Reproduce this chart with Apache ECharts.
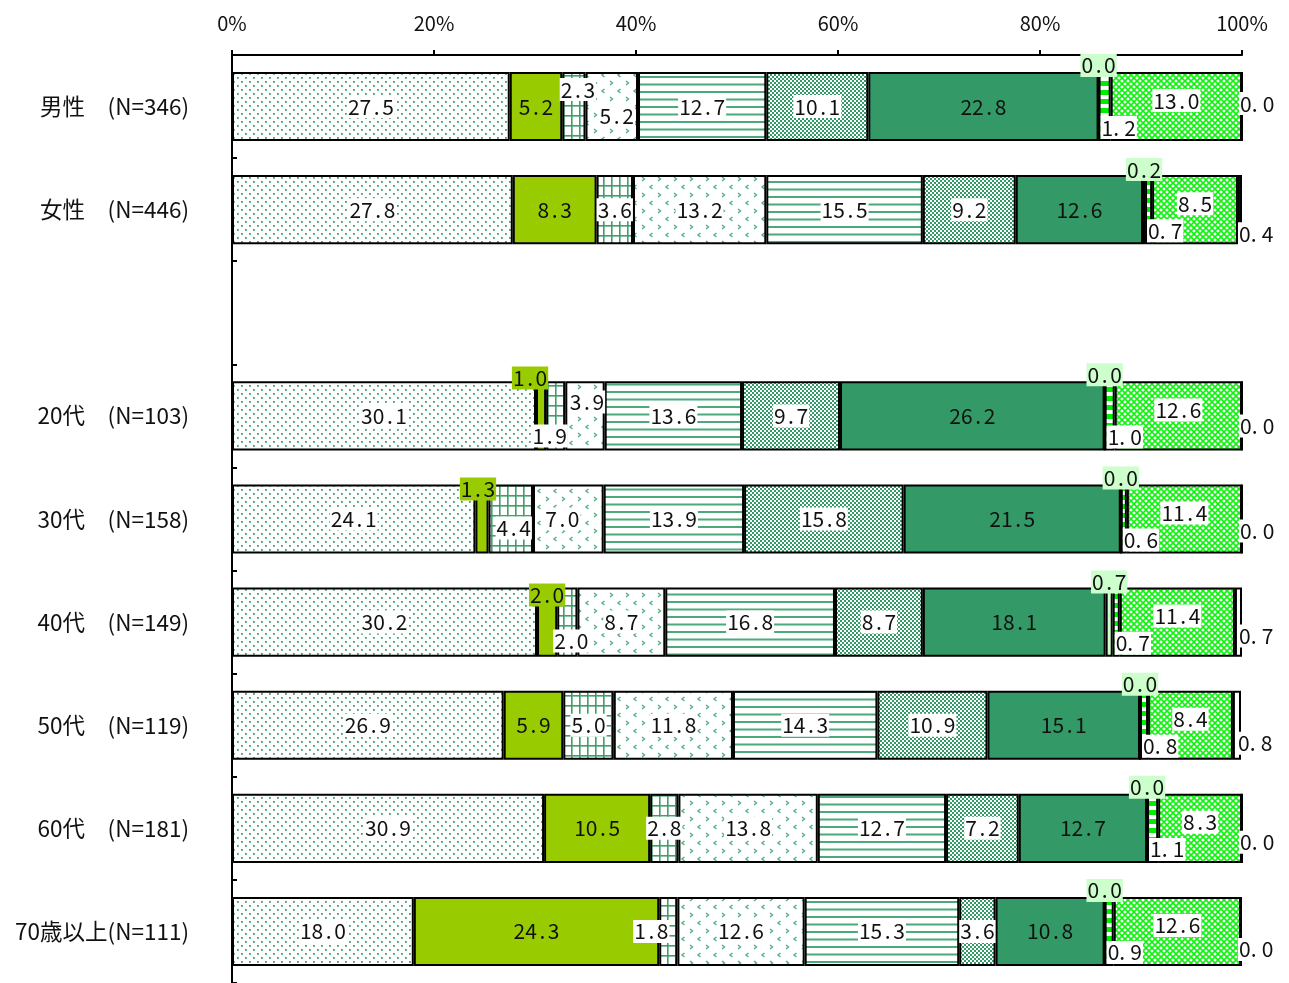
<!DOCTYPE html>
<html>
<head>
<meta charset="utf-8">
<script src="https://cdn.jsdelivr.net/npm/echarts@6/dist/echarts.min.js"></script>
<style>
  html, body { margin: 0; padding: 0; background: #fff; }
  #chart { width: 1289px; height: 983px; }
</style>
</head>
<body>
<div id="chart"></div>
<script>
// Row labels (the empty one is a spacer row between sex and age groups)
const categories = [
  '男性　(N=346)', '女性　(N=446)', '',
  '20代　(N=103)', '30代　(N=158)', '40代　(N=149)',
  '50代　(N=119)', '60代　(N=181)', '70歳以上(N=111)'
];
const tickLabels = ['0%', '20%', '40%', '60%', '80%', '100%'];

// Percentages per answer group, one value per row (null = spacer row)
const s1  = [27.5, 27.8, null, 30.1, 24.1, 30.2, 26.9, 30.9, 18.0];
const s2  = [ 5.2,  8.3, null,  1.0,  1.3,  2.0,  5.9, 10.5, 24.3];
const s3  = [ 2.3,  3.6, null,  1.9,  4.4,  2.0,  5.0,  2.8,  1.8];
const s4  = [ 5.2, 13.2, null,  3.9,  7.0,  8.7, 11.8, 13.8, 12.6];
const s5  = [12.7, 15.5, null, 13.6, 13.9, 16.8, 14.3, 12.7, 15.3];
const s6  = [10.1,  9.2, null,  9.7, 15.8,  8.7, 10.9,  7.2,  3.6];
const s7  = [22.8, 12.6, null, 26.2, 21.5, 18.1, 15.1, 12.7, 10.8];
const s8  = [ 0.0,  0.2, null,  0.0,  0.0,  0.7,  0.0,  0.0,  0.0];
const s9  = [ 1.2,  0.7, null,  1.0,  0.6,  0.7,  0.8,  1.1,  0.9];
const s10 = [13.0,  8.5, null, 12.6, 11.4, 11.4,  8.4,  8.3, 12.6];
const s11 = [ 0.0,  0.4, null,  0.0,  0.0,  0.7,  0.8,  0.0,  0.0];
const seriesValues = [s1, s2, s3, s4, s5, s6, s7, s8, s9, s10, s11];

// ---- fill patterns -------------------------------------------------------
function tile(w, h, draw) {
  const c = document.createElement('canvas');
  c.width = w; c.height = h;
  const g = c.getContext('2d');
  g.fillStyle = '#fff';
  g.fillRect(0, 0, w, h);
  draw(g);
  return { image: c, repeat: 'repeat' };
}
const dots = tile(8, 8, g => {
  g.fillStyle = '#3ba36d';
  g.fillRect(1, 1, 1.8, 1.8);
  g.fillRect(5, 5, 1.8, 1.8);
});
const grid = tile(8, 10, g => {
  g.fillStyle = '#3f9f6d';
  g.fillRect(3, 0, 1.6, 10);
  g.fillRect(0, 5, 8, 1.6);
});
const chevrons = tile(16, 16, g => {
  g.strokeStyle = '#52ad80';
  g.lineWidth = 1.4;
  g.beginPath();
  g.moveTo(2, 1); g.lineTo(4.5, 3); g.lineTo(2, 5);
  g.moveTo(12.5, 9); g.lineTo(10, 11); g.lineTo(12.5, 13);
  g.stroke();
});
const hLines = tile(8, 15, g => {
  g.fillStyle = '#4caa7a';
  g.fillRect(0, 1, 8, 2);
  g.fillRect(0, 8.5, 8, 2);
});
const checker = tile(4, 4, g => {
  g.fillStyle = '#339966';
  g.fillRect(0, 0, 2, 2);
  g.fillRect(2, 2, 2, 2);
});
const lattice = tile(6, 6, g => {
  g.strokeStyle = '#11f011';
  g.lineWidth = 1.6;
  g.beginPath();
  g.moveTo(0, 0); g.lineTo(6, 6);
  g.moveTo(6, 0); g.lineTo(0, 6);
  g.stroke();
  g.fillStyle = '#11f011';
  g.fillRect(0, 0, 1, 1); g.fillRect(5, 5, 1, 1); g.fillRect(5, 0, 1, 1); g.fillRect(0, 5, 1, 1);
});
const dashes = tile(8, 9, g => {
  g.fillStyle = '#00ee00';
  g.fillRect(0, 0, 8, 5);
});

const fills = [dots, '#99cc00', grid, chevrons, hLines, checker, '#339966',
               '#ccffcc', dashes, lattice, '#ffffff'];

// ---- label styling -------------------------------------------------------
const FONT = "'Noto Sans CJK JP', sans-serif";
const INK = '#111';

// label background per group: solid fills keep their own colour behind the text
const labelBg = ['#fff', '#99cc00', '#fff', '#fff', '#fff', '#fff', 'transparent',
                 '#ccffcc', '#fff', '#fff', '#fff'];

// per-row nudges [dx, dy] for labels of narrow segments
const labelNudge = {
  1: { 3: [-11, -38], 4: [-4, -30], 5: [0, -27] },
  2: { 0: [4, -17], 3: [-6, 20], 4: [3, 9], 5: [4, 19], 8: [-17, 0] },
  3: { 0: [5, 9], 3: [2, -14], 4: [-6, 0] }
};
const rightLabelDy = [-3, 24, 0, 10, 12, 14, 18, 14, 18];

// the decimal point sits in its own half-width cell, as in a fixed-pitch gothic face
function fmtValue(v) {
  const parts = Number(v).toFixed(1).split('.');
  return parts[0] + '{p|.}' + parts[1];
}

function labelFor(si, ri) {
  const base = {
    show: true,
    fontFamily: FONT,
    fontSize: 21,
    color: INK,
    backgroundColor: labelBg[si],
    padding: [0, 1, 0, 1],
    lineHeight: 23,
    formatter: p => fmtValue(p.value),
    rich: {
      p: { width: 11, align: 'left', fontFamily: FONT, fontSize: 21, lineHeight: 23, color: INK }
    }
  };
  if (si === 7) {
    return Object.assign(base, { position: 'top', distance: -6 });
  }
  if (si === 8) {
    return Object.assign(base, { position: 'insideBottomLeft', distance: 2 });
  }
  if (si === 10) {
    return Object.assign(base, { position: 'right', distance: -4, offset: [0, rightLabelDy[ri]] });
  }
  if (si === 9) {
    return Object.assign(base, { position: 'inside', offset: [0, -6] });
  }
  const n = labelNudge[si] && labelNudge[si][ri];
  return Object.assign(base, { position: 'inside', offset: n || [0, 0] });
}

const series = seriesValues.map((vals, si) => ({
  name: '区分' + (si + 1),
  type: 'bar',
  stack: 'total',
  barWidth: '67%',
  silent: true,
  itemStyle: { color: fills[si], borderColor: '#000', borderWidth: 2 },
  emphasis: { disabled: true },
  data: vals.map((v, ri) => v === null ? null : { value: v, label: labelFor(si, ri) })
}));

const chart = echarts.init(document.getElementById('chart'), null, { renderer: 'canvas' });
chart.setOption({
  animation: false,
  backgroundColor: '#fff',
  grid: { left: 232, right: 47, top: 55, bottom: 0 },
  xAxis: {
    type: 'value',
    position: 'top',
    min: 0, max: 100, interval: 20,
    splitLine: { show: false },
    axisLine: { show: true, lineStyle: { color: '#000', width: 2 } },
    axisTick: { show: true, length: 5, lineStyle: { color: '#000', width: 2 } },
    axisLabel: {
      margin: 22,
      fontFamily: FONT,
      fontSize: 20,
      color: INK,
      formatter: v => tickLabels[Math.round(v / 20)]
    }
  },
  yAxis: {
    type: 'category',
    inverse: true,
    data: categories,
    axisLine: { show: true, lineStyle: { color: '#000', width: 2 } },
    axisTick: { show: true, inside: true, length: 5, lineStyle: { color: '#000', width: 2 } },
    axisLabel: {
      margin: 43,
      fontFamily: FONT,
      fontSize: 22.5,
      color: INK
    }
  },
  series: series
});
</script>
</body>
</html>
